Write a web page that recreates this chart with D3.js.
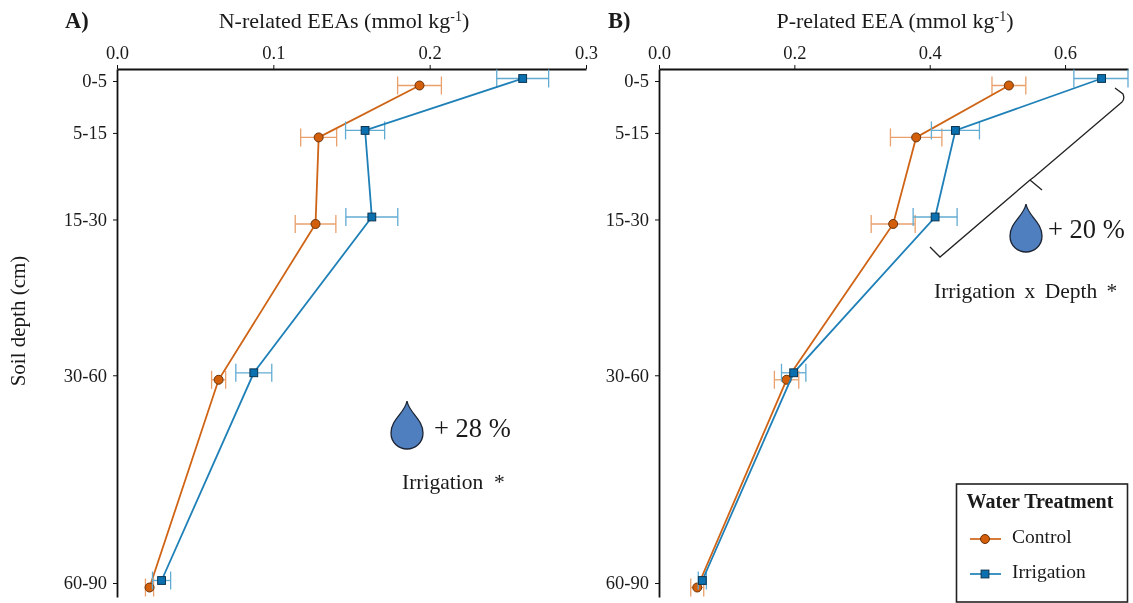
<!DOCTYPE html>
<html><head><meta charset="utf-8">
<script src="https://cdn.jsdelivr.net/npm/d3@7"></script>
<style>
html,body{margin:0;padding:0;background:#fff}
svg{display:block;filter:blur(0.35px)}
text{font-family:"Liberation Serif",serif;fill:#1a1a1a}
</style></head><body>
<svg id="c" width="1133" height="603"></svg>
<script>
const depthLabels = ["0-5","5-15","15-30","30-60","60-90"];
const depthMid = [2.5,10,22.5,45,75];
const controlA = [0.1935,0.129,0.127,0.065,0.0208];
const controlAErr = [0.014,0.0115,0.013,0.0045,0.0026];
const irrigationA = [0.2595,0.1587,0.163,0.0875,0.0285];
const irrigationAErr = [0.0166,0.0125,0.0166,0.0115,0.0058];
const controlB = [0.517,0.38,0.346,0.1885,0.0565];
const controlBErr = [0.025,0.038,0.0325,0.018,0.0096];
const irrigationB = [0.654,0.438,0.408,0.199,0.064];
const irrigationBErr = [0.041,0.0355,0.0325,0.018,0.006];
const ticksA = [0,0.1,0.2,0.3];
const ticksB = [0,0.2,0.4,0.6];

const COL = {c:"#cf6416",cErr:"#e9a06c",cFill:"#d35f0a",cStroke:"#6b3208",
             i:"#1f80b8",iErr:"#62abd2",iFill:"#0a70b0",iStroke:"#0c3450"};
const svg = d3.select("#c");
const y = d3.scaleLinear().domain([2.5,75]).range([81,583]);
const yTop = 69, yBottom = 597;
const OFF = {c:4.5,i:-2.5};

function panel(x0,x1,dmax,ticks,cVals,cErr,iVals,iErr,tag,tagX,title,titleX){
  const x = d3.scaleLinear().domain([0,dmax]).range([x0,x1]);
  const g = svg.append("g");
  const ax = d3.axisTop(x).tickValues(ticks).tickFormat(d3.format(".1f")).tickSizeInner(4).tickSizeOuter(0).tickPadding(6);
  const xa = g.append("g").attr("transform",`translate(0,${yTop})`).call(ax);
  const yScale = y.copy().domain([y.invert(yTop),y.invert(yBottom)]).range([yTop,yBottom]);
  const ay = d3.axisLeft(yScale).tickValues(depthMid).tickFormat((d,i)=>depthLabels[i]).tickSizeInner(4).tickSizeOuter(0).tickPadding(6);
  const ya = g.append("g").attr("transform",`translate(${x0},0)`).call(ay);
  [xa,ya].forEach(a=>{
    a.selectAll("path.domain").attr("stroke","#111").attr("stroke-width",1.8);
    a.selectAll("line").attr("stroke","#111").attr("stroke-width",1);
    a.selectAll("text").style("font-size","18.5px").style("font-family","Liberation Serif").attr("fill","#1a1a1a");
  });
  const series = [
    {vals:cVals,err:cErr,off:OFF.c,line:COL.c,ec:COL.cErr,fill:COL.cFill,st:COL.cStroke,round:true},
    {vals:iVals,err:iErr,off:OFF.i,line:COL.i,ec:COL.iErr,fill:COL.iFill,st:COL.iStroke,round:false}
  ];
  series.forEach(s=>{
    const pts = depthMid.map((d,i)=>({x:x(s.vals[i]),y:y(d)+s.off,lo:x(s.vals[i]-s.err[i]),hi:Math.min(x(s.vals[i]+s.err[i]),x1)}));
    const eg = g.append("g").attr("stroke",s.ec).attr("stroke-width",1.3).attr("fill","none");
    pts.forEach(p=>{
      eg.append("line").attr("x1",p.lo).attr("x2",p.hi).attr("y1",p.y).attr("y2",p.y);
      [p.lo,p.hi].forEach(v=>eg.append("line").attr("x1",v).attr("x2",v).attr("y1",p.y-9).attr("y2",p.y+9));
    });
    g.append("path").attr("d",d3.line().x(p=>p.x).y(p=>p.y)(pts)).attr("fill","none").attr("stroke",s.line).attr("stroke-width",1.8);
    pts.forEach(p=>marker(g,p.x,p.y,s));
  });
  svg.append("text").attr("x",tagX).attr("y",28).attr("font-weight","bold").style("font-size","22.5px").text(tag+")");
  const t = svg.append("text").attr("x",titleX).attr("y",28).attr("text-anchor","middle").style("font-size","22px");
  t.append("tspan").text(title+" (mmol kg");
  t.append("tspan").attr("dy",-7).style("font-size","14px").text("-1");
  t.append("tspan").attr("dy",7).text(")");
}
function marker(g,cx,cy,s){
  if(s.round) g.append("circle").attr("cx",cx).attr("cy",cy).attr("r",4.5).attr("fill",s.fill).attr("stroke",s.st).attr("stroke-width",1);
  else g.append("rect").attr("x",cx-3.9).attr("y",cy-3.9).attr("width",7.8).attr("height",7.8).attr("fill",s.fill).attr("stroke",s.st).attr("stroke-width",1);
}
panel(117,586,0.3,ticksA,controlA,controlAErr,irrigationA,irrigationAErr,"A",65,"N-related EEAs",344);
panel(659,1128,0.693,ticksB,controlB,controlBErr,irrigationB,irrigationBErr,"B",608,"P-related EEA",895);

svg.append("text").attr("transform","translate(25,321) rotate(-90)").attr("text-anchor","middle").style("font-size","21px").text("Soil depth (cm)");

function drop(cx,top){
  const p = d3.path();
  p.moveTo(cx,top);
  p.bezierCurveTo(cx+2,top+12,cx+16,top+18,cx+16,top+32);
  p.bezierCurveTo(cx+16,top+42,cx+8,top+48,cx,top+48);
  p.bezierCurveTo(cx-8,top+48,cx-16,top+42,cx-16,top+32);
  p.bezierCurveTo(cx-16,top+18,cx-2,top+12,cx,top);
  svg.append("path").attr("d",p.toString()).attr("fill","#4f7fbf").attr("stroke","#1c2433").attr("stroke-width",1.3);
}
drop(407,401); drop(1026,204);
svg.append("text").attr("x",434).attr("y",437).style("font-size","26.5px").text("+ 28 %");
svg.append("text").attr("x",402).attr("y",489).style("font-size","21.5px").style("white-space","pre").text("Irrigation  *");
svg.append("text").attr("x",1048).attr("y",238).style("font-size","26.5px").text("+ 20 %");
svg.append("text").attr("x",934).attr("y",298).style("font-size","21.5px").style("word-spacing","4px").text("Irrigation x Depth *");
svg.append("path").attr("d","M1115,88 L1123,94 Q1125,99 1122,102 L1034,177 L1030,180 L940,257 L930,247 M1030,180 L1042,190")
  .attr("fill","none").attr("stroke","#222").attr("stroke-width",1.3);

// legend
svg.append("rect").attr("x",956.5).attr("y",484).attr("width",171).attr("height",118).attr("fill","#fff").attr("stroke","#222").attr("stroke-width",1.6);
svg.append("text").attr("x",1040).attr("y",508).attr("text-anchor","middle").attr("font-weight","bold").style("font-size","20px").text("Water Treatment");
[{label:"Control",yy:539,ty:543,line:COL.c,fill:COL.cFill,st:COL.cStroke,round:true},
 {label:"Irrigation",yy:574,ty:578,line:COL.i,fill:COL.iFill,st:COL.iStroke,round:false}].forEach(l=>{
  svg.append("line").attr("x1",970).attr("x2",1001).attr("y1",l.yy).attr("y2",l.yy).attr("stroke",l.line).attr("stroke-width",1.7);
  marker(svg,985,l.yy,l);
  svg.append("text").attr("x",1012).attr("y",l.ty).style("font-size","19.5px").text(l.label);
});
</script></body></html>
